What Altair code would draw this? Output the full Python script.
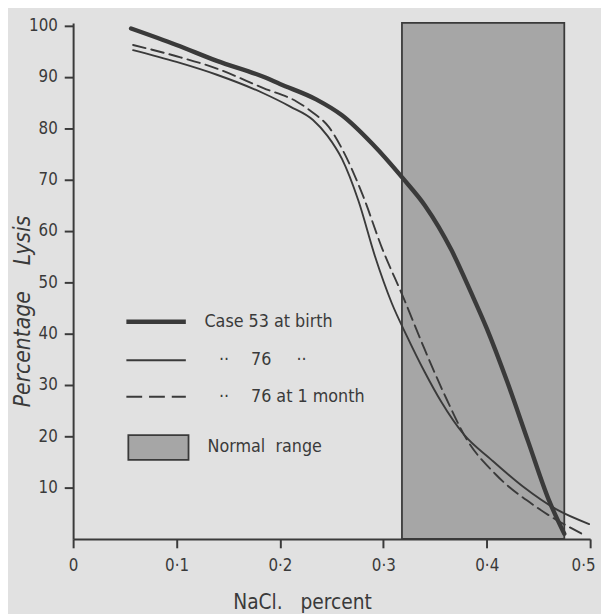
import altair as alt
import pandas as pd

# ---- data ----
case53_x = [0.056, 0.100, 0.139, 0.184, 0.200, 0.235, 0.260, 0.290, 0.319, 0.340, 0.366, 0.385, 0.400, 0.420, 0.440, 0.460, 0.475]
case53_y = [99.4, 96.2, 93.1, 90.0, 88.6, 85.6, 82.5, 76.8, 70.2, 65.0, 56.2, 47.9, 41.0, 30.5, 19.0, 7.6, 1.0]

case76_x = [0.058, 0.100, 0.139, 0.184, 0.210, 0.232, 0.246, 0.260, 0.276, 0.292, 0.308, 0.323, 0.340, 0.356, 0.378, 0.404, 0.435, 0.467, 0.499]
case76_y = [95.2, 92.9, 90.4, 86.8, 84.2, 81.6, 78.5, 74.0, 65.8, 55.0, 46.0, 39.4, 32.5, 26.7, 20.3, 15.5, 10.2, 5.8, 2.9]

month_x = [0.058, 0.100, 0.139, 0.184, 0.216, 0.232, 0.247, 0.260, 0.280, 0.299, 0.319, 0.340, 0.361, 0.380, 0.409, 0.448, 0.492]
month_y = [96.2, 94.0, 91.6, 87.8, 85.2, 83.0, 80.3, 76.0, 67.0, 56.5, 47.2, 36.9, 27.3, 19.6, 12.5, 6.2, 1.0]

normal_range = [0.318, 0.475]
y_top = 100.5

x_ticks = [0, 0.1, 0.2, 0.3, 0.4, 0.5]
y_ticks = [10, 20, 30, 40, 50, 60, 70, 80, 90, 100]

# legend layout (in data units)
leg_line_x = [0.0515, 0.109]
leg_line_y = [42.3, 34.8, 27.7]
leg_rect_x = [0.0534, 0.1116]
leg_rect_y = [15.4, 20.2]

INK = "#3a3a3a"
BG = "#e1e1e1"
FILL = "#a6a6a6"
FONT = "DejaVu Sans Condensed, Liberation Sans Narrow, DejaVu Sans, sans-serif"

xscale = alt.Scale(domain=[0, 0.5], nice=False, zero=False)
yscale = alt.Scale(domain=[0, y_top], nice=False, zero=False)

xaxis = alt.Axis(
    values=x_ticks,
    labelExpr="datum.value == 0 ? '0' : replace(format(datum.value, '.1f'), '.', '\u00b7')",
    title="NaCl.\u00a0\u00a0 percent",
    titleX=232, titleY=71, titleAlign="center", titleBaseline="alphabetic",
    titleFontSize=21, titleFontWeight="normal", titleColor=INK, titleFont=FONT,
    labelFontSize=17, labelColor=INK, labelFont=FONT, labelPadding=10,
    tickSize=9, tickWidth=2, tickColor=INK, domainColor=INK, domainWidth=2,
    grid=False, labelFlush=True, labelFlushOffset=5, labelOverlap=False,
)
yaxis = alt.Axis(
    values=y_ticks,
    title="Percentage\u00a0\u00a0\u00a0 Lysis",
    titleX=-51, titleY=292, titleAngle=270, titleAlign="center", titleBaseline="middle",
    titleFontSize=23, titleFontWeight="normal", titleFontStyle="italic", titleColor=INK, titleFont=FONT,
    labelFontSize=17, labelColor=INK, labelFont=FONT, labelPadding=7,
    tickSize=9, tickWidth=2, tickColor=INK, domainColor=INK, domainWidth=2,
    grid=False, labelFlush=False, labelOverlap=False,
)

X = lambda f: alt.X(f, type="quantitative", scale=xscale, axis=xaxis)
Y = lambda f: alt.Y(f, type="quantitative", scale=yscale, axis=yaxis)

# normal range band
rect_df = pd.DataFrame({"x": [normal_range[0]], "x2": [normal_range[1]], "y": [0], "y2": [y_top]})
band = alt.Chart(rect_df).mark_rect(fill=FILL, stroke=INK, strokeWidth=1.8).encode(
    x=X("x"), x2="x2", y=Y("y"), y2="y2"
)

def curve(xs, ys, width, dash=None):
    df = pd.DataFrame({"x": xs, "y": ys})
    kw = dict(color=INK, strokeWidth=width, interpolate="monotone", strokeCap="round")
    if dash:
        kw["strokeDash"] = dash
    return alt.Chart(df).mark_line(**kw).encode(x=X("x"), y=Y("y"), order="x:Q")

l53 = curve(case53_x, case53_y, 4.4)
l76 = curve(case76_x, case76_y, 1.9)
lm = curve(month_x, month_y, 1.9, [13, 6])

# legend
def leg_line(yv, width, dash=None):
    df = pd.DataFrame({"x": [leg_line_x[0]], "x2": [leg_line_x[1]], "y": [yv]})
    kw = dict(color=INK, strokeWidth=width)
    if dash:
        kw["strokeDash"] = dash
    return alt.Chart(df).mark_rule(**kw).encode(x=X("x"), x2="x2", y=Y("y"))

leg1 = leg_line(leg_line_y[0], 4.4)
leg2 = leg_line(leg_line_y[1], 1.9)
leg3 = leg_line(leg_line_y[2], 1.9, [16, 7])
leg_rect_df = pd.DataFrame({"x": [leg_rect_x[0]], "x2": [leg_rect_x[1]], "y": [leg_rect_y[0]], "y2": [leg_rect_y[1]]})
leg4 = alt.Chart(leg_rect_df).mark_rect(fill=FILL, stroke=INK, strokeWidth=1.8).encode(
    x=X("x"), x2="x2", y=Y("y"), y2="y2"
)

leg_text_df = pd.DataFrame({
    "x": [0.127, 0.141, 0.172, 0.216, 0.141, 0.172, 0.130],
    "y": [leg_line_y[0], leg_line_y[1], leg_line_y[1], leg_line_y[1], leg_line_y[2], leg_line_y[2], 17.8],
    "t": ["Case 53 at birth", "\u00b7\u00b7", "76", "\u00b7\u00b7", "\u00b7\u00b7", "76 at 1 month", "Normal\u00a0 range"],
})
leg_text = alt.Chart(leg_text_df).mark_text(
    align="left", baseline="middle", font=FONT, fontSize=18, color=INK
).encode(x=X("x"), y=Y("y"), text="t:N")

chart = alt.layer(band, l76, lm, l53, leg1, leg2, leg3, leg4, leg_text).properties(
    width=524, height=523,
    autosize=alt.AutoSizeParams(type="none"),
    padding={"left": 66, "top": 11, "right": 11, "bottom": 72},
    background=BG,
).configure_view(stroke=None)

chart.save("out.html", embed_options={"renderer": "svg", "actions": False})
